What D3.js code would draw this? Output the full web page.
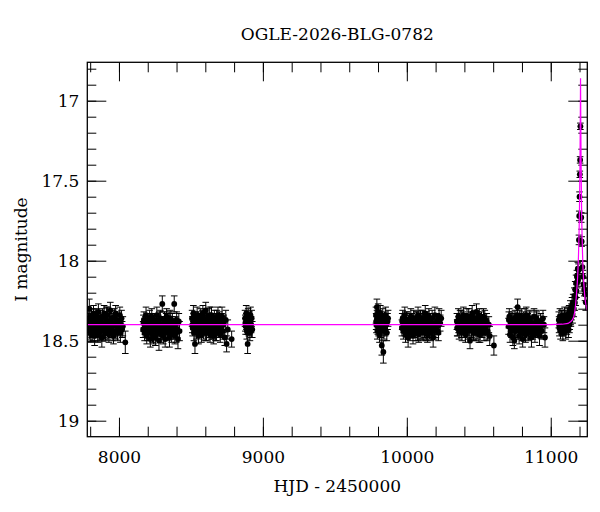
<!DOCTYPE html>
<html>
<head>
<meta charset="utf-8">
<script src="https://cdn.jsdelivr.net/npm/d3@7"></script>
<style>
  body { margin: 0; background: #fff; }
  svg text { font-family: "DejaVu Serif", serif; fill: #000; }
</style>
</head>
<body>
<div id="chart"></div>
<script>
// photometry, [HJD-2450000, I mag, error], one array per observing season
var season1 = [[7786,18.41,.05],[7788,18.38,.05],[7790,18.36,.05],[7794,18.30,.06],[7797,18.44,.05],[7799,18.40,.05],[7801,18.39,.04],[7805,18.46,.05],[7808,18.35,.05],[7810,18.43,.05],[7812,18.42,.05],[7816,18.38,.04],[7819,18.45,.05],[7821,18.37,.05],[7823,18.33,.05],[7827,18.40,.05],[7829,18.43,.05],[7831,18.47,.06],[7834,18.37,.05],[7838,18.43,.05],[7840,18.39,.05],[7842,18.34,.04],[7846,18.41,.05],[7850,18.39,.05],[7853,18.46,.05],[7855,18.36,.05],[7857,18.32,.05],[7861,18.42,.05],[7863,18.45,.05],[7865,18.38,.04],[7869,18.44,.05],[7873,18.36,.05],[7875,18.40,.05],[7877,18.41,.05],[7881,18.48,.06],[7885,18.35,.05],[7887,18.42,.05],[7889,18.40,.05],[7893,18.43,.05],[7897,18.33,.05],[7900,18.44,.05],[7902,18.39,.04],[7906,18.45,.05],[7910,18.37,.05],[7913,18.34,.05],[7915,18.42,.05],[7920,18.34,.05],[7923,18.44,.05],[7925,18.40,.05],[7930,18.46,.05],[7935,18.38,.05],[7938,18.42,.05],[7940,18.31,.05],[7945,18.43,.05],[7950,18.36,.05],[7953,18.45,.05],[7956,18.41,.04],[7962,18.47,.05],[7965,18.39,.05],[7968,18.35,.05],[7974,18.40,.05],[7977,18.33,.05],[7980,18.44,.05],[7987,18.37,.05],[7990,18.45,.05],[7994,18.42,.05],[8002,18.39,.05],[8006,18.34,.05],[8010,18.45,.06],[8018,18.36,.05],[8022,18.43,.05],[8027,18.41,.06],[8044,18.51,.07]];
var season2 = [[8168,18.43,.05],[8170,18.39,.05],[8173,18.37,.05],[8178,18.45,.05],[8180,18.41,.05],[8183,18.40,.05],[8188,18.34,.05],[8190,18.43,.05],[8193,18.47,.05],[8198,18.41,.05],[8200,18.45,.05],[8203,18.38,.04],[8208,18.44,.05],[8210,18.40,.05],[8213,18.36,.05],[8218,18.49,.05],[8220,18.38,.05],[8223,18.42,.05],[8228,18.35,.05],[8230,18.44,.05],[8233,18.46,.05],[8238,18.39,.05],[8240,18.47,.05],[8243,18.43,.05],[8248,18.37,.04],[8250,18.42,.05],[8253,18.48,.05],[8258,18.41,.05],[8260,18.38,.05],[8263,18.34,.05],[8268,18.45,.05],[8270,18.42,.05],[8273,18.39,.05],[8278,18.50,.06],[8280,18.37,.05],[8283,18.42,.05],[8288,18.36,.05],[8290,18.44,.05],[8293,18.46,.05],[8297,18.40,.05],[8301,18.27,.05],[8306,18.40,.05],[8308,18.47,.05],[8311,18.44,.05],[8316,18.37,.05],[8318,18.42,.05],[8321,18.49,.05],[8326,18.41,.05],[8328,18.38,.05],[8331,18.35,.05],[8336,18.45,.05],[8338,18.40,.05],[8341,18.39,.05],[8346,18.43,.05],[8348,18.37,.05],[8351,18.48,.06],[8356,18.36,.05],[8358,18.44,.05],[8361,18.42,.05],[8366,18.46,.05],[8368,18.40,.05],[8371,18.38,.05],[8376,18.44,.05],[8379,18.41,.05],[8384,18.27,.05],[8388,18.47,.05],[8393,18.40,.05],[8398,18.45,.06],[8401,18.37,.05],[8404,18.43,.05],[8410,18.49,.06],[8416,18.38,.05],[8421,18.44,.06]];
var season3 = [[8508,18.36,.05],[8510,18.40,.05],[8512,18.42,.05],[8517,18.33,.05],[8519,18.38,.05],[8521,18.45,.05],[8525,18.39,.05],[8528,18.52,.06],[8530,18.41,.05],[8533,18.37,.05],[8538,18.44,.05],[8540,18.40,.05],[8543,18.34,.05],[8548,18.41,.05],[8550,18.37,.05],[8553,18.47,.05],[8558,18.38,.05],[8560,18.43,.05],[8563,18.43,.05],[8568,18.35,.05],[8570,18.40,.05],[8573,18.46,.05],[8578,18.40,.05],[8580,18.36,.05],[8583,18.33,.05],[8588,18.44,.05],[8590,18.39,.05],[8593,18.37,.05],[8598,18.42,.05],[8600,18.45,.05],[8603,18.31,.05],[8608,18.45,.05],[8610,18.38,.05],[8613,18.39,.05],[8618,18.35,.05],[8620,18.41,.05],[8623,18.43,.05],[8628,18.38,.05],[8630,18.34,.05],[8633,18.46,.05],[8638,18.41,.05],[8640,18.44,.05],[8643,18.34,.05],[8648,18.44,.05],[8650,18.38,.05],[8653,18.39,.05],[8658,18.47,.05],[8660,18.41,.05],[8663,18.36,.05],[8668,18.42,.05],[8670,18.45,.05],[8673,18.38,.05],[8678,18.45,.05],[8680,18.36,.05],[8683,18.40,.05],[8688,18.34,.05],[8690,18.42,.05],[8693,18.43,.05],[8698,18.37,.05],[8701,18.41,.05],[8704,18.46,.05],[8710,18.41,.05],[8713,18.38,.05],[8716,18.35,.06],[8722,18.44,.05],[8725,18.40,.05],[8728,18.39,.05],[8735,18.48,.05],[8742,18.37,.06],[8748,18.52,.05],[8756,18.43,.06],[8783,18.49,.05]];
var season4 = [[8876,18.36,.05],[8878,18.39,.05],[8880,18.41,.05],[8884,18.33,.05],[8886,18.38,.05],[8888,18.44,.05],[8892,18.38,.05],[8894,18.52,.06],[8896,18.41,.05],[8898,18.35,.05],[8902,18.42,.05],[8904,18.39,.05],[8906,18.37,.05],[8910,18.45,.05],[8912,18.40,.05],[8914,18.34,.05],[8918,18.40,.05],[8920,18.43,.05],[8922,18.36,.05],[8926,18.43,.05]];
var season5 = [[9786,18.34,.05],[9787,18.38,.05],[9789,18.40,.05],[9792,18.29,.05],[9793,18.36,.05],[9795,18.44,.05],[9798,18.37,.05],[9799,18.41,.05],[9801,18.32,.05],[9804,18.42,.05],[9805,18.38,.05],[9807,18.36,.05],[9810,18.46,.05],[9811,18.40,.05],[9813,18.39,.05],[9816,18.33,.05],[9819,18.43,.05],[9822,18.38,.05],[9826,18.53,.06],[9829,18.41,.05],[9833,18.35,.05],[9837,18.57,.07],[9841,18.44,.05],[9845,18.37,.05],[9849,18.42,.05],[9853,18.34,.05],[9857,18.40,.05],[9861,18.45,.05],[9866,18.38,.05],[9870,18.36,.05]];
var season6 = [[9966,18.42,.05],[9968,18.38,.05],[9971,18.36,.05],[9976,18.44,.05],[9978,18.40,.05],[9981,18.39,.05],[9986,18.34,.05],[9988,18.42,.05],[9991,18.46,.05],[9996,18.41,.05],[9998,18.37,.05],[10001,18.37,.05],[10005,18.43,.05],[10009,18.48,.06],[10013,18.43,.05],[10015,18.39,.05],[10018,18.38,.05],[10023,18.45,.05],[10025,18.41,.05],[10028,18.35,.05],[10033,18.42,.05],[10035,18.38,.05],[10038,18.40,.05],[10043,18.47,.05],[10045,18.43,.05],[10048,18.36,.05],[10053,18.43,.05],[10055,18.40,.05],[10058,18.39,.05],[10063,18.45,.05],[10065,18.37,.05],[10068,18.37,.05],[10073,18.42,.05],[10075,18.45,.05],[10078,18.34,.05],[10083,18.46,.05],[10085,18.39,.05],[10088,18.40,.05],[10093,18.44,.05],[10095,18.36,.05],[10098,18.38,.05],[10103,18.41,.05],[10105,18.44,.05],[10108,18.36,.05],[10113,18.45,.05],[10115,18.40,.05],[10118,18.39,.05],[10123,18.43,.05],[10125,18.37,.05],[10128,18.33,.05],[10133,18.42,.07],[10135,18.45,.05],[10138,18.37,.05],[10143,18.46,.05],[10145,18.41,.05],[10148,18.40,.06],[10153,18.35,.05],[10155,18.43,.05],[10158,18.44,.05],[10164,18.38,.05],[10167,18.45,.05],[10170,18.42,.05],[10176,18.36,.05],[10179,18.41,.05],[10183,18.48,.06],[10189,18.40,.05],[10192,18.44,.05],[10195,18.34,.05],[10202,18.43,.05],[10205,18.39,.05],[10209,18.38,.05],[10216,18.41,.05],[10220,18.45,.05],[10224,18.35,.05],[10232,18.39,.05],[10239,18.36,.05]];
var season7 = [[10348,18.38,.05],[10350,18.42,.05],[10353,18.42,.05],[10358,18.35,.05],[10360,18.40,.05],[10363,18.44,.05],[10368,18.39,.05],[10370,18.36,.05],[10373,18.41,.05],[10378,18.36,.05],[10380,18.43,.05],[10383,18.45,.05],[10388,18.40,.05],[10390,18.37,.05],[10393,18.34,.05],[10398,18.43,.05],[10400,18.39,.05],[10403,18.38,.05],[10408,18.46,.05],[10410,18.42,.05],[10413,18.41,.05],[10418,18.35,.05],[10420,18.39,.05],[10423,18.44,.05],[10428,18.39,.05],[10430,18.35,.05],[10433,18.42,.05],[10439,18.50,.05],[10441,18.40,.05],[10444,18.37,.05],[10449,18.43,.05],[10451,18.39,.05],[10454,18.33,.05],[10459,18.40,.05],[10461,18.44,.05],[10464,18.45,.05],[10469,18.36,.05],[10471,18.41,.05],[10474,18.42,.05],[10479,18.39,.05],[10481,18.45,.05],[10484,18.32,.05],[10489,18.44,.05],[10491,18.37,.05],[10494,18.38,.05],[10499,18.41,.05],[10501,18.46,.05],[10504,18.35,.05],[10509,18.46,.05],[10511,18.40,.05],[10514,18.40,.05],[10519,18.37,.05],[10521,18.43,.05],[10524,18.43,.05],[10530,18.39,.05],[10533,18.35,.05],[10536,18.45,.05],[10542,18.36,.05],[10545,18.42,.05],[10548,18.41,.05],[10555,18.38,.05],[10558,18.45,.05],[10562,18.44,.05],[10570,18.40,.05],[10576,18.47,.06],[10605,18.53,.06]];
var season8 = [[10707,18.41,.05],[10709,18.37,.05],[10712,18.35,.05],[10717,18.46,.05],[10719,18.42,.05],[10722,18.39,.05],[10727,18.43,.05],[10729,18.38,.05],[10732,18.37,.05],[10737,18.48,.05],[10739,18.41,.05],[10742,18.40,.05],[10747,18.50,.05],[10749,18.43,.05],[10752,18.36,.05],[10757,18.44,.05],[10759,18.39,.05],[10762,18.39,.05],[10766,18.34,.05],[10770,18.29,.05],[10772,18.40,.05],[10775,18.42,.05],[10780,18.47,.05],[10782,18.36,.05],[10785,18.38,.05],[10790,18.44,.05],[10792,18.40,.05],[10795,18.35,.05],[10800,18.41,.05],[10802,18.45,.05],[10805,18.49,.05],[10810,18.37,.05],[10812,18.42,.05],[10815,18.43,.05],[10820,18.39,.05],[10822,18.35,.05],[10825,18.46,.05],[10830,18.34,.05],[10832,18.41,.05],[10835,18.42,.05],[10840,18.38,.05],[10842,18.44,.05],[10845,18.45,.05],[10850,18.40,.05],[10852,18.37,.05],[10855,18.36,.05],[10860,18.44,.05],[10863,18.40,.05],[10866,18.48,.06],[10872,18.39,.05],[10875,18.44,.05],[10878,18.42,.05],[10884,18.35,.05],[10887,18.41,.05],[10890,18.46,.05],[10896,18.40,.05],[10899,18.36,.05],[10902,18.37,.05],[10908,18.43,.05],[10912,18.39,.05],[10915,18.41,.05],[10922,18.47,.06],[10926,18.42,.05],[10930,18.38,.05],[10938,18.44,.05],[10946,18.36,.05],[10953,18.40,.05],[10960,18.48,.06]];
var season9 = [[11056,18.37,.05],[11058,18.40,.05],[11060,18.42,.05],[11064,18.35,.05],[11066,18.39,.05],[11068,18.44,.05],[11072,18.39,.05],[11074,18.36,.05],[11076,18.41,.05],[11080,18.36,.05],[11082,18.42,.05],[11084,18.45,.05],[11088,18.38,.05],[11090,18.41,.05],[11092,18.42,.05],[11096,18.34,.05],[11098,18.38,.05],[11100,18.40,.05],[11104,18.44,.05],[11106,18.36,.05],[11108,18.37,.05],[11112,18.41,.05],[11114,18.38,.05],[11116,18.35,.05],[11120,18.39,.05],[11122,18.34,.05],[11124,18.43,.05],[11128,18.33,.05],[11130,18.40,.05],[11132,18.38,.05],[11136,18.30,.05],[11138,18.35,.05],[11140,18.36,.05],[11144,18.32,.05],[11148,18.28,.05],[11152,18.34,.05],[11156,18.26,.05],[11160,18.30,.05],[11164,18.22,.05],[11167,18.26,.05],[11170,18.18,.05],[11173,18.23,.05],[11176,18.14,.05],[11179,18.19,.04],[11182,18.10,.04],[11185,18.13,.04],[11188,18.05,.04],
  [11190,18.12,.04],[11193,18.06,.04],[11196,17.87,.03],[11198,17.72,.03],[11200,17.60,.03],[11202,17.46,.02],[11204,17.37,.02],[11206,17.16,.02],
  [11212,17.73,.03],[11215,17.88,.03],[11220,18.04,.04],[11224,18.10,.04],[11228,18.15,.04],[11233,18.18,.04],[11238,18.21,.04],[11243,18.26,.05]];

// point-lens model, [HJD-2450000, I mag]
var modelCurve = [[7780,18.400],[11000,18.400],[11080,18.397],[11120,18.392],[11140,18.38],[11150,18.37],[11160,18.35],[11167,18.32],[11172,18.28],[11177,18.23],[11182,18.17],[11187,18.10],[11190,18.04],[11193,17.96],[11196,17.86],[11199,17.72],[11201,17.58],[11203,17.40],[11205,17.16],[11206,17.02],[11207,16.86],[11208,17.02],[11209,17.16],[11211,17.40],[11213,17.58],[11215,17.72],[11218,17.86],[11221,17.96],[11224,18.04],[11227,18.10],[11232,18.17],[11237,18.23],[11242,18.26],[11248,18.29],[11254,18.31]];

var title = "OGLE-2026-BLG-0782";
var xLabel = "HJD - 2450000";
var yLabel = "I magnitude";
var xMajorTicks = [8000, 9000, 10000, 11000];
var yMajorTicks = [17, 17.5, 18, 18.5, 19];

var W = 600, H = 512;
var margin = {top: 62.3, right: 12.7, bottom: 75.3, left: 87.3};
var width = W - margin.left - margin.right,
    height = H - margin.top - margin.bottom;

var svg = d3.select("#chart").append("svg")
  .attr("width", W).attr("height", H);

var g = svg.append("g")
  .attr("transform", "translate(" + margin.left + "," + margin.top + ")");

var x = d3.scaleLinear().domain([7780, 11254]).range([0, width]);
var y = d3.scaleLinear().domain([16.76, 19.1]).range([0, height]);

var xMinor = d3.range(7800, 11254, 200);
var yMinor = d3.range(168, 191, 1).map(function(v) { return v / 10; });

function styleAxis(sel) {
  sel.select(".domain").remove();
  sel.selectAll(".tick line").attr("stroke", "#000").attr("stroke-width", 1);
  sel.selectAll(".tick text").style("font-size", "17px");
}

// minor ticks, all four sides
g.append("g").attr("transform", "translate(0," + height + ")")
  .call(d3.axisBottom(x).tickValues(xMinor).tickSize(-10).tickFormat(""))
  .call(styleAxis);
g.append("g")
  .call(d3.axisTop(x).tickValues(xMinor).tickSize(-10).tickFormat(""))
  .call(styleAxis);
g.append("g")
  .call(d3.axisLeft(y).tickValues(yMinor).tickSize(-9).tickFormat(""))
  .call(styleAxis);
g.append("g").attr("transform", "translate(" + width + ",0)")
  .call(d3.axisRight(y).tickValues(yMinor).tickSize(-9).tickFormat(""))
  .call(styleAxis);

// major ticks with labels
g.append("g").attr("transform", "translate(0," + height + ")")
  .call(d3.axisBottom(x).tickValues(xMajorTicks).tickSize(-19).tickPadding(14).tickFormat(d3.format("d")))
  .call(styleAxis);
g.append("g")
  .call(d3.axisTop(x).tickValues(xMajorTicks).tickSize(-19).tickFormat(""))
  .call(styleAxis);
g.append("g")
  .call(d3.axisLeft(y).tickValues(yMajorTicks).tickSize(-19).tickPadding(8).tickFormat(function(d) { return String(d); }))
  .call(styleAxis);
g.append("g").attr("transform", "translate(" + width + ",0)")
  .call(d3.axisRight(y).tickValues(yMajorTicks).tickSize(-19).tickFormat(""))
  .call(styleAxis);

var plot = g.append("g");
plot.append("clipPath").attr("id", "clip")
  .append("rect").attr("width", width).attr("height", height);
var inner = plot.append("g").attr("clip-path", "url(#clip)");

var allPoints = [].concat(season1, season2, season3, season4, season5,
                          season6, season7, season8, season9);

// error bars
var eb = inner.append("g").attr("stroke", "#000").attr("stroke-width", 1);
var capW = 3.3;
eb.selectAll("line.bar").data(allPoints).enter().append("line")
  .attr("class", "bar")
  .attr("x1", function(d) { return x(d[0]); })
  .attr("x2", function(d) { return x(d[0]); })
  .attr("y1", function(d) { return y(d[1] - d[2]); })
  .attr("y2", function(d) { return y(d[1] + d[2]); });
eb.selectAll("line.capTop").data(allPoints).enter().append("line")
  .attr("class", "capTop")
  .attr("x1", function(d) { return x(d[0]) - capW; })
  .attr("x2", function(d) { return x(d[0]) + capW; })
  .attr("y1", function(d) { return y(d[1] - d[2]); })
  .attr("y2", function(d) { return y(d[1] - d[2]); });
eb.selectAll("line.capBot").data(allPoints).enter().append("line")
  .attr("class", "capBot")
  .attr("x1", function(d) { return x(d[0]) - capW; })
  .attr("x2", function(d) { return x(d[0]) + capW; })
  .attr("y1", function(d) { return y(d[1] + d[2]); })
  .attr("y2", function(d) { return y(d[1] + d[2]); });

inner.append("g").selectAll("circle").data(allPoints).enter().append("circle")
  .attr("cx", function(d) { return x(d[0]); })
  .attr("cy", function(d) { return y(d[1]); })
  .attr("r", 2.9)
  .attr("fill", "#000");

// model on top of the data
inner.append("path").datum(modelCurve)
  .attr("fill", "none")
  .attr("stroke", "#ff00ff")
  .attr("stroke-width", 1.2)
  .attr("d", d3.line().x(function(d) { return x(d[0]); }).y(function(d) { return y(d[1]); }));

// frame
g.append("rect")
  .attr("width", width).attr("height", height)
  .attr("fill", "none").attr("stroke", "#000").attr("stroke-width", 1.3);

svg.append("text")
  .attr("x", margin.left + width / 2).attr("y", 40)
  .attr("text-anchor", "middle")
  .style("font-size", "17px")
  .text(title);

svg.append("text")
  .attr("x", margin.left + width / 2).attr("y", 492)
  .attr("text-anchor", "middle")
  .style("font-size", "17px")
  .text(xLabel);

svg.append("text")
  .attr("transform", "translate(27," + (margin.top + height / 2) + ") rotate(-90)")
  .attr("text-anchor", "middle")
  .style("font-size", "17px")
  .text(yLabel);
</script>
</body>
</html>
